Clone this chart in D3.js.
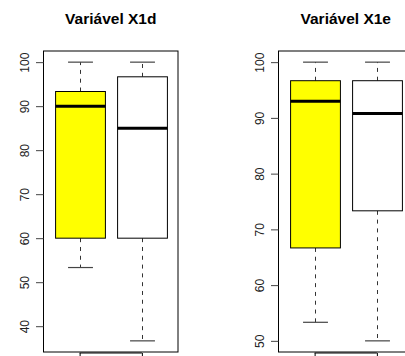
<!DOCTYPE html>
<html>
<head>
<meta charset="utf-8">
<script src="https://cdn.jsdelivr.net/npm/d3@7"></script>
<style>
  body { margin: 0; background: #fff; }
  svg { display: block; font-family: "Liberation Sans", Arial, sans-serif; }
</style>
</head>
<body>
<div id="chart"></div>
<script>
// panel titles
const titles = ["Variável X1d", "Variável X1e"];

// box stats per group: [lower whisker, Q1, median, Q3, upper whisker]
const x1dYellow = [53.33, 60, 90, 93.33, 100];
const x1dWhite = [36.67, 60, 85, 96.67, 100];
const x1eYellow = [53.33, 66.67, 93, 96.67, 100];
const x1eWhite = [50, 73.33, 90.8, 96.67, 100];

const boxColors = ["#ffff00", "#ffffff"];

// y tick labels per panel
const ticksX1d = [40, 50, 60, 70, 80, 90, 100];
const ticksX1e = [50, 60, 70, 80, 90, 100];

const panels = [
    { title: titles[0], boxes: [x1dYellow, x1dWhite], ticks: ticksX1d, left: 43.5 },
    { title: titles[1], boxes: [x1eYellow, x1eWhite], ticks: ticksX1e, left: 278.5 }
];

const W = 405, H = 356;
const plotW = 134.5, plotTop = 51, plotBottom = 352;

const svg = d3.select("#chart").append("svg")
    .attr("width", W)
    .attr("height", H);

panels.forEach(p => {
    const g = svg.append("g");

    // R style: extend data range by 4%
    const lo = d3.min(p.boxes, b => b[0]), hi = d3.max(p.boxes, b => b[4]);
    const pad = (hi - lo) * 0.04;
    const y = d3.scaleLinear().domain([lo - pad, hi + pad]).range([plotBottom, plotTop]);
    const x = d3.scaleLinear().domain([0.42, 2.58]).range([p.left, p.left + plotW]);

    const boxW = x(0.8) - x(0);
    const capW = boxW / 2;

    p.boxes.forEach((b, i) => {
        const cx = Math.round(x(i + 1)) + 0.5;

        // whiskers (dashed)
        g.append("line")
            .attr("x1", cx).attr("x2", cx)
            .attr("y1", y(b[3])).attr("y2", y(b[4]))
            .attr("stroke", "#333").attr("stroke-dasharray", "4,4.8");
        g.append("line")
            .attr("x1", cx).attr("x2", cx)
            .attr("y1", y(b[1])).attr("y2", y(b[0]))
            .attr("stroke", "#333").attr("stroke-dasharray", "4,4.8");

        // staples
        [b[0], b[4]].forEach(v => {
            g.append("line")
                .attr("x1", cx - capW / 2).attr("x2", cx + capW / 2)
                .attr("y1", y(v)).attr("y2", y(v))
                .attr("stroke", "#444").attr("stroke-width", 1.2);
        });

        // box
        g.append("rect")
            .attr("x", cx - boxW / 2)
            .attr("y", y(b[3]))
            .attr("width", boxW)
            .attr("height", y(b[1]) - y(b[3]))
            .attr("fill", boxColors[i])
            .attr("stroke", "#000");

        // median
        g.append("line")
            .attr("x1", cx - boxW / 2).attr("x2", cx + boxW / 2)
            .attr("y1", y(b[2])).attr("y2", y(b[2]))
            .attr("stroke", "#000").attr("stroke-width", 3);
    });

    // plot frame
    g.append("rect")
        .attr("x", p.left).attr("y", plotTop)
        .attr("width", plotW).attr("height", plotBottom - plotTop)
        .attr("fill", "none").attr("stroke", "#000");

    // y axis
    const yAxis = g.append("g")
        .attr("transform", `translate(${p.left},0)`)
        .call(d3.axisLeft(y).tickValues(p.ticks).tickSize(7.5).tickFormat(d3.format("d")));
    yAxis.select(".domain").remove();
    yAxis.selectAll(".tick line").attr("stroke", "#444");
    yAxis.selectAll(".tick text")
        .attr("transform", "rotate(-90)")
        .attr("x", 0)
        .attr("y", -15)
        .attr("dy", 0)
        .attr("text-anchor", "middle")
        .attr("font-size", "12px")
        .attr("font-family", "Liberation Sans, Arial, sans-serif")
        .attr("fill", "#222");

    // x axis: line between first and last tick
    const xAxis = g.append("g")
        .attr("transform", `translate(0,${plotBottom + 1})`)
        .call(d3.axisBottom(x).tickValues([1, 2]).tickSize(7.5).tickFormat(""));
    xAxis.select(".domain").remove();
    xAxis.append("line")
        .attr("x1", x(1)).attr("x2", x(2))
        .attr("stroke", "#000");

    // title
    g.append("text")
        .attr("x", p.left + plotW / 2)
        .attr("y", 23.5)
        .attr("text-anchor", "middle")
        .attr("font-size", "15.5px")
        .attr("font-weight", "bold")
        .text(p.title);
});
</script>
</body>
</html>
